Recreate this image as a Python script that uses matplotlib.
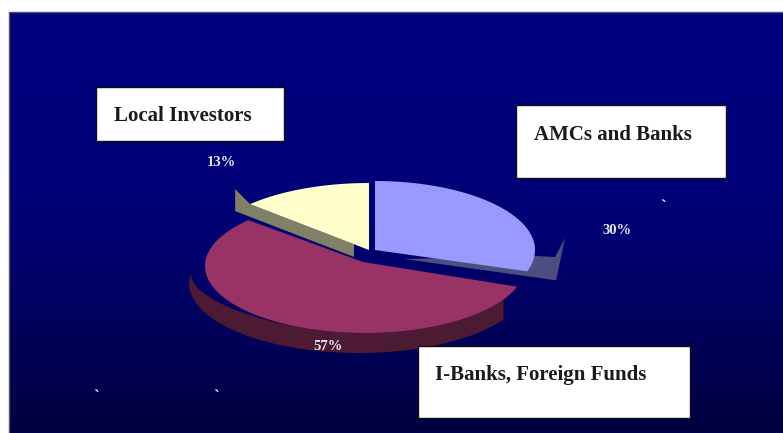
import numpy as np
import matplotlib
matplotlib.use('Agg')
import matplotlib.pyplot as plt
from matplotlib.patches import Polygon, Rectangle

categories = ['AMCs and Banks', 'I-Banks, Foreign Funds', 'Local Investors']
shares = [30, 57, 13]
top_colors = ['#9999ff', '#993366', '#ffffcc']
wall_colors = ['#4d4d80', '#4d1a33', '#808066']

# pie geometry, pixels: ellipse x, ellipse y, x radius, y radius
centers = [(375, 250, 160, 69), (365, 266, 160, 67), (369, 250, 163, 67)]
apexes = [(375, 250), (363, 262), (369, 250)]
boxes = [(516, 105, 210, 73), (418, 346, 272, 72), (96, 87, 188, 54)]
box_text = [(534, 135), (435, 375), (114, 116)]
pct_pos = [(617, 230), (328, 346), (221, 163)]
ticks = [(663, 207), (96, 397), (216, 397)]

fig = plt.figure(figsize=(7.83, 4.33), dpi=100, facecolor='white')
ax = fig.add_axes([0, 0, 1, 1])
ax.set_xlim(0, 783)
ax.set_ylim(433, 0)
ax.axis('off')

# dark blue backdrop, fading downwards
grad = np.linspace(0, 1, 256).reshape(-1, 1)
cmap = matplotlib.colors.LinearSegmentedColormap.from_list('bg', ['#000080', '#000076', '#000040'])
ax.imshow(grad, cmap=cmap, extent=(9, 783, 433, 12), aspect='auto', zorder=0)
ax.set_xlim(0, 783)
ax.set_ylim(433, 0)
ax.plot([9, 9, 783], [433, 12, 12], color='#555566', lw=1, zorder=1)


def rim(c, deg):
    t = np.radians(deg)
    return np.column_stack([c[0] + c[2] * np.sin(t), c[1] - c[3] * np.cos(t)])


# wedge angles run clockwise from twelve o'clock
edges = np.concatenate([[0], np.cumsum(shares)]) * 3.6
spans = list(zip(edges[:-1], edges[1:]))

# blue slice: short wall under the outer edge, ending in a notched corner
c = centers[0]
a0, a1 = spans[0]
off = np.array([29, 9])
apex = np.array(apexes[0], dtype=float)
right = rim(c, 90)[0]
blue_wall = np.vstack([apex + off, rim(c, a1)[0] + off, right + (30, -12), right + (20, 7), right + (0, 6)])
ax.add_patch(Polygon(blue_wall, closed=True, fc=wall_colors[0], ec='none', zorder=2))

# maroon slice: crescent wall with a gap that closes towards the bottom
c = centers[1]
a0, a1 = spans[1]
th = np.linspace(a0 + 12, 282, 120)
frac = (th - th[0]) / (th[-1] - th[0])
outer = rim(c, th) + np.column_stack([-17 * frac, np.full_like(th, 20)])
th_in = np.linspace(282, 200, 60)
t = ((th_in - 200) / 82) ** 2
inner = rim(c, th_in) + np.column_stack([-17 * t, 20 * t])
rest = rim(c, np.linspace(200, a0 + 12, 40))
ax.add_patch(Polygon(np.vstack([outer, inner, rest]), closed=True, fc=wall_colors[1], ec='none', zorder=2))

# yellow slice: flat wall behind the straight edge
c = centers[2]
a0, a1 = spans[2]
apex = np.array(apexes[2], dtype=float)
tip = rim(c, a0)[0]
off = np.array([-15, 7])
edge_pt = apex + (tip - apex) * (-off[0] / (apex[0] - tip[0]))
yellow_wall = np.vstack([apex + off, tip + off, tip + off + (0, -22), tip, edge_pt])
ax.add_patch(Polygon(yellow_wall, closed=True, fc=wall_colors[2], ec='none', zorder=2))

# top faces
for c, apex, (a0, a1), col in zip(centers, apexes, spans, top_colors):
    arc = rim(c, np.linspace(a0, a1, 120))
    ax.add_patch(Polygon(np.vstack([apex, arc]), closed=True, fc=col, ec='none', zorder=3))

# label boxes
for name, b, p in zip(categories, boxes, box_text):
    ax.add_patch(Rectangle(b[:2], b[2], b[3], fc='white', ec='#111111', lw=1, zorder=4))
    ax.text(p[0], p[1], name, family='Liberation Serif', weight='bold', fontsize=15,
            color='#1a1a1a', va='center', ha='left', zorder=5)

for v, p in zip(shares, pct_pos):
    ax.text(p[0], p[1], f'{v}%', family='Liberation Serif', weight='bold', fontsize=10.5,
            color='#e8e8f0', ha='center', va='center', zorder=5)

for p in ticks:
    ax.text(p[0], p[1], '`', family='Liberation Serif', weight='bold', fontsize=12,
            color='white', ha='center', va='center', zorder=5)

fig.savefig('out.png', dpi=100)
